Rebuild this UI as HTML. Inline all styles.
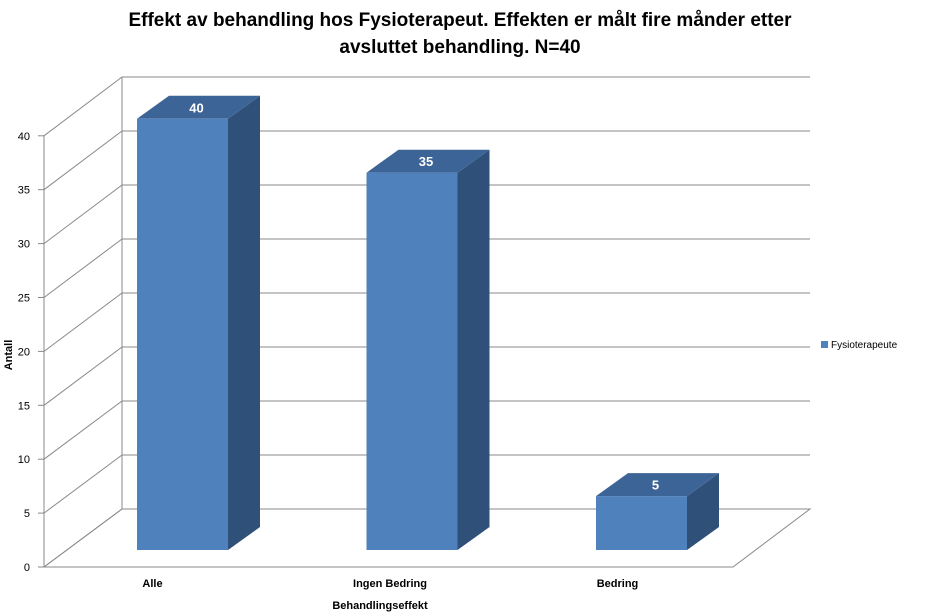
<!DOCTYPE html>
<html><head><meta charset="utf-8"><style>
body{margin:0;background:#fff;}
svg{display:block;font-family:"Liberation Sans",Arial,sans-serif;}
</style></head><body>
<svg id="chart" width="942" height="614" viewBox="0 0 942 614">
<text x="460" y="26" text-anchor="middle" font-size="19" font-weight="bold">Effekt av behandling hos Fysioterapeut. Effekten er målt fire månder etter</text>
<text x="460" y="53" text-anchor="middle" font-size="19" font-weight="bold">avsluttet behandling. N=40</text>
<g id="grid"></g>
<g id="bars"></g>
<g id="labels"></g>
<text transform="translate(12,355) rotate(-90)" text-anchor="middle" font-size="11" font-weight="bold">Antall</text>
<text x="380" y="609" text-anchor="middle" font-size="11" font-weight="bold">Behandlingseffekt</text>
<g>
<rect x="821" y="341" width="7" height="7" fill="#4F81BD"/>
<text x="831" y="348" font-size="10">Fysioterapeute</text>
</g>
</svg>
<script>
const categories = ["Alle", "Ingen Bedring", "Bedring"];
const values = [40, 35, 5];
const yTicks = [0, 5, 10, 15, 20, 25, 30, 35, 40];

const NS = "http://www.w3.org/2000/svg";
const frontY = v => 567 - v * 10.78;
const backY = v => 509 - v * 10.8;
const barY = v => 550 - v * 10.78;
const catX = i => 137 + i * 229.5;
function mk(tag, attrs, parent){const e=document.createElementNS(NS,tag);for(const k in attrs)e.setAttribute(k,attrs[k]);parent.appendChild(e);return e;}
const grid=document.getElementById('grid'), bars=document.getElementById('bars'), labels=document.getElementById('labels');

mk('polygon',{points:"44,567 122,509 810,509 733,567",fill:"none",stroke:"#888","stroke-width":1},grid);
mk('line',{x1:44,y1:frontY(0),x2:44,y2:frontY(40),stroke:"#888"},grid);
mk('line',{x1:122,y1:backY(0),x2:122,y2:backY(40),stroke:"#888"},grid);
yTicks.forEach(v=>{
  const g1=mk('line',{x1:44,y1:frontY(v),x2:122,y2:backY(v),stroke:"#888"},grid);
  
  
  const g2=mk('line',{x1:122,y1:backY(v),x2:810,y2:backY(v),stroke:"#888"},grid);
  
  
  mk('line',{x1:38,y1:frontY(v),x2:44,y2:frontY(v),stroke:"#888"},grid);
  const t=mk('text',{x:30,y:frontY(v)+4,"text-anchor":"end","font-size":11},labels);
  t.textContent=v;
  
  
});

const W=91, DX=32, DY=-23;
values.forEach((v,i)=>{
  const x=catX(i), yt=barY(v), yb=barY(0);
  const g=mk('g',{},bars);
  
  
  mk('polygon',{points:`${x+W},${yt} ${x+W+DX},${yt+DY} ${x+W+DX},${yb+DY} ${x+W},${yb}`,fill:"#2F5079"},g);
  mk('polygon',{points:`${x},${yt} ${x+DX},${yt+DY} ${x+W+DX},${yt+DY} ${x+W},${yt}`,fill:"#3D6496"},g);
  mk('rect',{x:x,y:yt,width:W,height:yb-yt,fill:"#4F81BD"},g);
  const vl=mk('text',{x:x+W/2+DX/2-2,y:yt+DY/2+5,"text-anchor":"middle","font-size":13,"font-weight":"bold",fill:"#fff"},labels);
  vl.textContent=v;
  
  
  const cl=mk('text',{x:x+W/2-2+ (i===0?-36:i===1?-28:-30)+ (i===0?28:i===1?28:28) - 20,y:587,"text-anchor":"middle","font-size":11,"font-weight":"bold"},labels);
  cl.textContent=categories[i];
  
  
});
</script>
</body></html>
